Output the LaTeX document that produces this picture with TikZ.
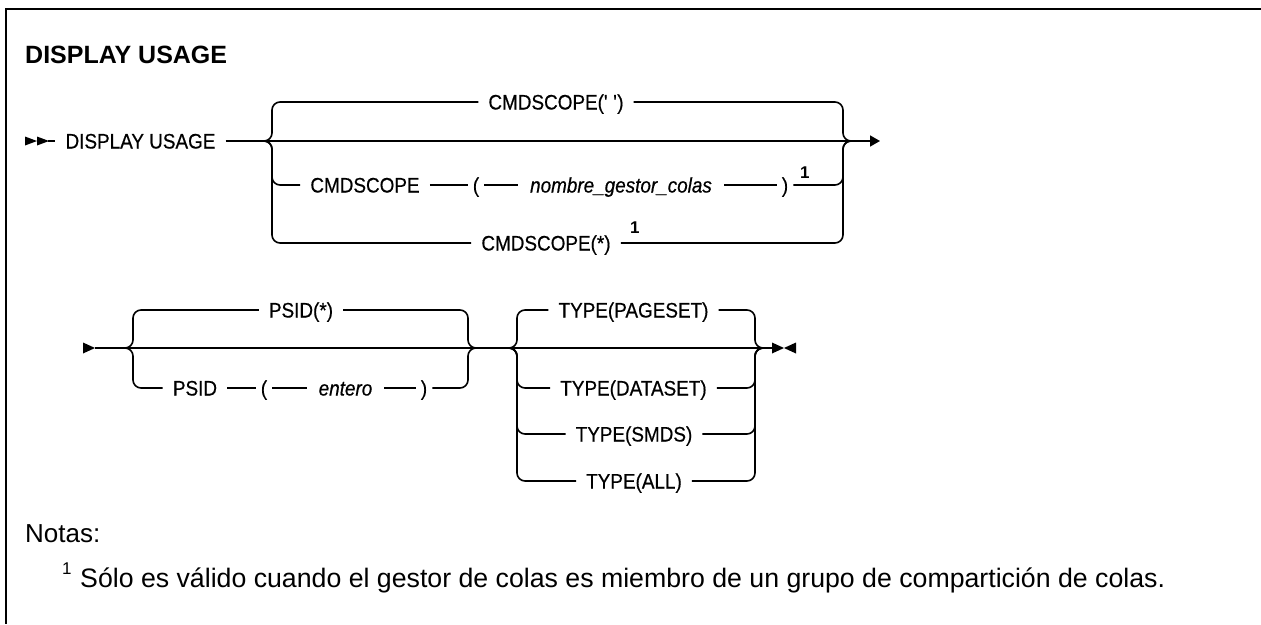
\documentclass[tikz,border=0pt]{standalone}
\usepackage{fontspec}
\setmainfont{Liberation Sans}
\newfontfamily\railfont[FakeStretch=0.9, FakeBold=0.5]{Liberation Sans}
\usetikzlibrary{arrows.meta}
\tikzset{
	rail/.style={
			line width=1.6pt,
			line join=round
		},
	railnode/.style={
			font=\railfont\fontsize{21}{25}\selectfont,
			inner xsep=10pt,
			inner ysep=0pt,
			text height=15pt,
			text depth=0pt
		},
	varnode/.style={
			railnode,
			font=\railfont\fontsize{21}{25}\selectfont\itshape,
			inner xsep=12pt
		},
	parennode/.style={
			railnode,
			inner xsep=5pt
		},
	footnode/.style={
			font=\bfseries\fontsize{17}{20}\selectfont,
			inner sep=0pt,
			anchor=base west
		},
	branch/.style={
			rail,
			rounded corners=8pt
		}
}

\begin{document}
\begin{tikzpicture}[x=1pt, y=-1pt]
\useasboundingbox (0,0) rectangle (1261,624);
\draw[line width=2pt] (1261,9) -- (6,9) -- (6,624);

\node[font=\bfseries\fontsize{25}{30}\selectfont, inner sep=0pt, anchor=base west] (title) at (25,63) {DISPLAY USAGE};

% first line
\fill (25,136.5) -- (37,141) -- (25,145.5) -- cycle;
\fill (37,136.5) -- (49,141) -- (37,145.5) -- cycle;
\coordinate (s1) at (48,141);
\coordinate (e1) at (880,141);
\coordinate (j1a) at (267,141);
\coordinate (v1a) at (272,141);
\coordinate (v1b) at (843,141);
\coordinate (j1b) at (852,141);

\node[railnode] (st1) at (140.5,141) {DISPLAY USAGE};
\node[railnode] (t1) at (556,102) {CMDSCOPE(\textquotesingle\ \textquotesingle)};
\node[railnode] (c1) at (365,185) {CMDSCOPE};
\node[parennode] (c2) at (476,185) {(};
\node[varnode] (c3) at (621,185) {nombre\_gestor\_colas};
\node[parennode] (c4) at (785,185) {)};
\node[footnode] (fn1) at (800,178) {1};
\node[railnode] (b1) at (546,243) {CMDSCOPE(*)};
\node[footnode] (fn2) at (630,233) {1};

\draw[rail] (s1) -- (st1.west);
\draw[rail, -{Triangle[length=10pt, width=11pt]}] (st1.east) -- (e1);
\draw[branch] (t1.west) -| (v1a) -- (j1a);
\draw[branch] (t1.east) -| (v1b) -- (j1b);
\draw[branch] (c1.west) -| (v1a) -- (j1a);
\draw[rail] (c1.east) -- (c2.west);
\draw[rail] (c2.east) -- (c3.west);
\draw[rail] (c3.east) -- (c4.west);
\draw[branch] (c4.east) -| (v1b) -- (j1b);
\draw[branch] (b1.west) -| (v1a) -- (j1a);
\draw[branch] (b1.east) -| (v1b) -- (j1b);

% second line
\fill (83,342.5) -- (95,348) -- (83,353.5) -- cycle;
\coordinate (s2) at (95,348);
\coordinate (e2) at (772,348);
\coordinate (j2a) at (127,348);
\coordinate (v2a) at (133,348);
\coordinate (v2b) at (468,348);
\coordinate (j2b) at (477,348);
\coordinate (j3a) at (512,348);
\coordinate (v3a) at (517,348);
\coordinate (v3b) at (755,348);
\coordinate (j3b) at (762,348);

\node[railnode] (p1) at (301,310) {PSID(*)};
\node[railnode] (q1) at (195,388) {PSID};
\node[parennode] (q2) at (264,388) {(};
\node[varnode] (q3) at (345.5,388) {entero};
\node[parennode] (q4) at (424,388) {)};
\node[railnode] (ty1) at (633.5,310) {TYPE(PAGESET)};
\node[railnode] (ty2) at (633.5,388) {TYPE(DATASET)};
\node[railnode] (ty3) at (634,434) {TYPE(SMDS)};
\node[railnode] (ty4) at (634,481) {TYPE(ALL)};

\draw[rail] (s2) -- (e2);
\fill (772,342.5) -- (784,348) -- (772,353.5) -- cycle;
\fill (796,342.5) -- (784,348) -- (796,353.5) -- cycle;
\draw[branch] (p1.west) -| (v2a) -- (j2a);
\draw[branch] (p1.east) -| (v2b) -- (j2b);
\draw[branch] (q1.west) -| (v2a) -- (j2a);
\draw[rail] (q1.east) -- (q2.west);
\draw[rail] (q2.east) -- (q3.west);
\draw[rail] (q3.east) -- (q4.west);
\draw[branch] (q4.east) -| (v2b) -- (j2b);
\foreach \t in {ty1,ty2,ty3,ty4} {
  \draw[branch] (\t.west) -| (v3a) -- (j3a);
  \draw[branch] (\t.east) -| (v3b) -- (j3b);
}

% notes
\node[font=\fontsize{26}{30}\selectfont, inner sep=0pt, anchor=base west] (notas) at (25,542) {Notas:};
\node[font=\fontsize{17}{20}\selectfont, inner sep=0pt, anchor=base west] (n1mark) at (62,574) {1};
\node[font=\fontsize{26.7}{32}\selectfont, inner sep=0pt, anchor=base west] (n1) at (80,587) {Sólo es válido cuando el gestor de colas es miembro de un grupo de compartición de colas.};
\end{tikzpicture}
\end{document}
